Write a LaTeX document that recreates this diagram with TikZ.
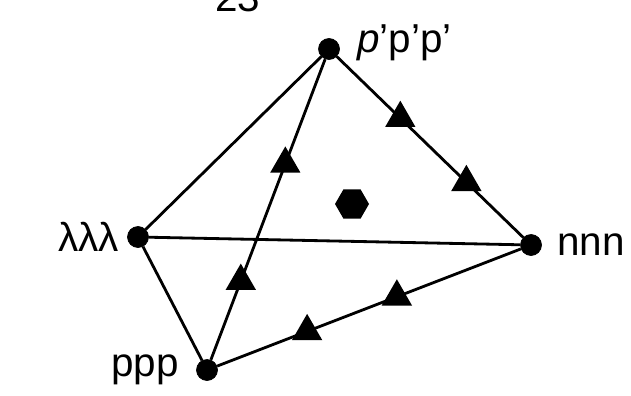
\documentclass[tikz,border=0pt]{standalone}
\usepackage{fontspec}
\setmainfont{Liberation Sans}
\usetikzlibrary{positioning,shapes.geometric,calc}
\tikzset{
  vtx/.style  = {circle, draw, fill=black, inner sep=0pt, minimum size=4.2mm},
  tri/.style  = {regular polygon, regular polygon sides=3, fill=black,
                 inner sep=0pt, minimum size=7mm},
  hex/.style  = {regular polygon, regular polygon sides=6, fill=black,
                 inner sep=0pt, minimum size=6.8mm},
  edge/.style = {line width=1.6pt},
  lbl/.style  = {inner sep=0pt, font=\fontsize{23}{27}\selectfont}
}
\begin{document}
\begin{tikzpicture}[x=0.02cm, y=-0.02cm]
  \useasboundingbox (0,0) rectangle (631,395);
  \node[lbl, anchor=base] (pg) at (238,12) {23};
  \node[vtx] (t) at (329,49) {};
  \node[vtx] (l) at (138,237) {};
  \node[vtx] (n) at (531,245) {};
  \node[vtx] (p) at (207,370) {};
  \foreach \s/\t in {l/t,l/n,l/p,t/n,p/t,p/n}
    {\draw[edge] (\s) -- (\t);}
  \foreach \s/\t/\f/\nm in {t/n/0.353/tn1,t/n/0.68/tn2,p/t/0.277/pt1,
                            p/t/0.642/pt2,p/n/0.309/pn1,p/n/0.586/pn2}
    {\node[tri] (\nm) at ($(\s)!\f!(\t)$) {};}
  \node[hex] (c) at (352,204) {};
  \node[lbl, right=0.34cm of t, yshift=0.12cm] {\textit{p}'p'p'};
  \node[lbl, left=0.16cm of l] {λλλ};
  \node[lbl, right=0.3cm of n] {nnn};
  \node[lbl, left=0.34cm of p] {ppp};
\end{tikzpicture}
\end{document}
